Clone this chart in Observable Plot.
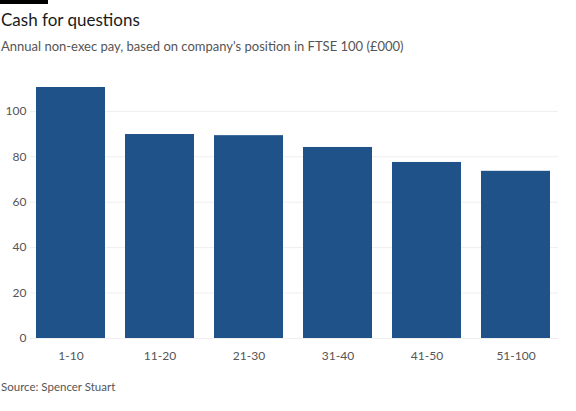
<!DOCTYPE html>
<html>
<head>
<meta charset="utf-8">
<script src="https://cdn.jsdelivr.net/npm/d3@7"></script>
<script src="https://cdn.jsdelivr.net/npm/@observablehq/plot@0.6"></script>
<style>
  html, body { margin: 0; padding: 0; background: #fff; }
  body { width: 576px; height: 411px; position: relative; font-family: Lato, "Open Sans", sans-serif; overflow: hidden; }
  #brand { position: absolute; left: 0; top: 0; width: 48px; height: 4px; background: #000; }
  #title { position: absolute; left: 1px; top: 9px; font-size: 17px; color: #1a1a1a; }
  #subtitle { position: absolute; left: 1px; top: 38px; font-size: 13px; color: #555; }
  #chart { position: absolute; left: 0; top: 60px; }
  #source { position: absolute; left: 1px; top: 380px; font-size: 11.5px; color: #555; }
</style>
</head>
<body>
<div id="brand"></div>
<div id="title">Cash for questions</div>
<div id="subtitle">Annual non-exec pay, based on company's position in FTSE 100 (£000)</div>
<div id="chart"></div>
<div id="source">Source: Spencer Stuart</div>
<script>
const categories = ["1-10", "11-20", "21-30", "31-40", "41-50", "51-100"];
const pay = [110.5, 89.8, 89.3, 84.1, 77.5, 73.6];
const yTicks = [0, 20, 40, 60, 80, 100];

const data = categories.map((c, i) => ({category: c, value: pay[i]}));

const chart = Plot.plot({
  width: 576,
  height: 308,
  marginTop: 27,
  marginBottom: 30,
  marginLeft: 33,
  marginRight: 23,
  style: {fontFamily: "Lato, 'Open Sans', sans-serif", fontSize: "12px", color: "#555", background: "transparent"},
  x: {domain: categories, paddingInner: 0.222, paddingOuter: 0, label: null},
  y: {domain: [0, d3.max(pay)], ticks: yTicks, label: null},
  marks: [
    Plot.ruleY(yTicks, {stroke: "#eeeeee", strokeWidth: 1, insetLeft: -3, insetRight: -5}),
    Plot.barY(data, {x: "category", y: "value", fill: "#1f5289"}),
    Plot.axisY({ticks: yTicks, tickSize: 0, tickPadding: 7, fill: "#555"}),
    Plot.axisX({tickSize: 0, tickPadding: 13, fill: "#555"})
  ]
});
document.getElementById("chart").appendChild(chart);
</script>
</body>
</html>
